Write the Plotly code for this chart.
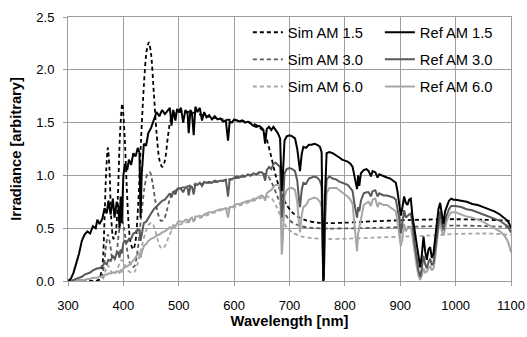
import plotly.graph_objects as go

# ---------------- data ----------------
ref_wl = [300, 305, 310, 315, 320, 325, 330, 335, 340, 345,
          350, 353, 357, 362, 366, 370, 373, 377, 381, 384,
          388, 391, 393, 395, 397, 400, 403, 407, 410, 414,
          418, 422, 426, 429, 431, 433, 437, 441, 445, 450,
          455, 460, 465, 470, 475, 480, 484, 487, 490, 494,
          497, 500, 504, 508, 512, 516, 518, 521, 524, 527,
          530, 534, 538, 542, 546, 550, 555, 560, 565, 570,
          575, 580, 585, 589, 592, 596, 600, 605, 610, 615,
          620, 625, 630, 635, 640, 645, 650, 653, 656, 659,
          663, 667, 671, 675, 679, 683, 686, 688, 691, 695,
          700, 705, 710, 714, 717, 719, 722, 725, 730, 735,
          740, 745, 750, 755, 758, 760, 761, 762, 764, 767,
          772, 778, 785, 790, 795, 800, 805, 810, 814, 817,
          819, 822, 824, 826, 829, 834, 839, 843, 847, 850,
          855, 859, 862, 866, 870, 876, 882, 888, 892, 895,
          898, 901, 904, 907, 910, 913, 916, 919, 922, 926,
          930, 933, 936, 939, 942, 945, 948, 951, 954, 957,
          960, 963, 966, 969, 972, 975, 978, 981, 984, 988,
          992, 996, 1000, 1010, 1020, 1030, 1040, 1050, 1060, 1070,
          1080, 1088, 1094, 1097, 1100]

ref_am15 = [0.00, 0.02, 0.08, 0.17, 0.26, 0.38, 0.44, 0.47, 0.45, 0.52,
            0.50, 0.58, 0.54, 0.59, 0.69, 0.64, 0.76, 0.63, 0.78, 0.60,
            0.75, 0.70, 0.50, 0.80, 0.55, 1.00, 1.11, 1.05, 1.15, 1.10,
            1.21, 1.18, 1.26, 1.22, 0.60, 1.00, 1.30, 1.28, 1.40, 1.45,
            1.52, 1.60, 1.56, 1.62, 1.58, 1.61, 1.64, 1.47, 1.62, 1.52,
            1.63, 1.60, 1.64, 1.50, 1.62, 1.58, 1.40, 1.62, 1.58, 1.38,
            1.65, 1.60, 1.64, 1.52, 1.60, 1.55, 1.57, 1.53, 1.56, 1.53,
            1.54, 1.51, 1.52, 1.33, 1.51, 1.50, 1.53, 1.52, 1.51, 1.52,
            1.50, 1.51, 1.49, 1.47, 1.46, 1.47, 1.45, 1.43, 1.30, 1.44,
            1.46, 1.43, 1.46, 1.43, 1.40, 1.35, 0.85, 1.00, 1.33, 1.37,
            1.38, 1.37, 1.35, 1.25, 1.10, 1.04, 1.20, 1.27, 1.26, 1.29,
            1.29, 1.30, 1.29, 1.27, 1.22, 0.30, 0.00, 0.05, 0.80, 1.21,
            1.22, 1.21, 1.19, 1.17, 1.15, 1.14, 1.13, 1.11, 1.08, 1.00,
            0.93, 0.87, 1.00, 0.90, 1.02, 1.05, 1.06, 1.04, 0.99, 1.04,
            1.03, 0.98, 1.01, 1.00, 0.99, 0.98, 0.97, 0.95, 0.93, 0.85,
            0.74, 0.62, 0.70, 0.80, 0.74, 0.72, 0.77, 0.78, 0.62, 0.48,
            0.32, 0.20, 0.13, 0.25, 0.42, 0.28, 0.20, 0.30, 0.32, 0.22,
            0.26, 0.40, 0.55, 0.68, 0.74, 0.64, 0.54, 0.66, 0.71, 0.76,
            0.78, 0.77, 0.77, 0.76, 0.75, 0.73, 0.72, 0.70, 0.68, 0.66,
            0.63, 0.60, 0.57, 0.54, 0.50]

ref_am30 = [0.00, 0.00, 0.01, 0.02, 0.03, 0.04, 0.06, 0.07, 0.08, 0.10,
            0.11, 0.12, 0.12, 0.14, 0.17, 0.16, 0.20, 0.19, 0.24, 0.21,
            0.26, 0.27, 0.22, 0.30, 0.26, 0.36, 0.38, 0.37, 0.40, 0.40,
            0.45, 0.46, 0.49, 0.48, 0.38, 0.45, 0.55, 0.56, 0.60, 0.64,
            0.68, 0.71, 0.73, 0.76, 0.77, 0.80, 0.83, 0.79, 0.85, 0.82,
            0.87, 0.88, 0.87, 0.84, 0.89, 0.88, 0.81, 0.90, 0.89, 0.82,
            0.92, 0.91, 0.93, 0.90, 0.94, 0.93, 0.94, 0.93, 0.95, 0.94,
            0.95, 0.95, 0.96, 0.80, 0.96, 0.96, 0.98, 0.99, 0.98, 1.00,
            0.99, 1.01, 1.00, 1.02, 1.01, 1.03, 1.03, 1.01, 0.95, 1.05,
            1.08, 1.06, 1.11, 1.12, 1.10, 1.08, 0.60, 0.70, 1.02, 1.06,
            1.07, 1.06, 1.04, 0.95, 0.78, 0.70, 0.86, 0.93, 0.92, 0.97,
            0.98, 0.99, 0.98, 0.95, 0.89, 0.20, 0.00, 0.02, 0.60, 0.96,
            0.99, 0.97, 0.96, 0.94, 0.93, 0.92, 0.91, 0.88, 0.85, 0.74,
            0.68, 0.60, 0.70, 0.66, 0.76, 0.83, 0.84, 0.84, 0.80, 0.85,
            0.86, 0.80, 0.83, 0.82, 0.81, 0.81, 0.80, 0.79, 0.77, 0.70,
            0.60, 0.45, 0.55, 0.67, 0.60, 0.62, 0.63, 0.64, 0.55, 0.35,
            0.20, 0.10, 0.04, 0.12, 0.24, 0.16, 0.12, 0.18, 0.21, 0.15,
            0.17, 0.30, 0.42, 0.58, 0.66, 0.55, 0.48, 0.58, 0.63, 0.68,
            0.71, 0.71, 0.71, 0.70, 0.68, 0.67, 0.65, 0.63, 0.61, 0.59,
            0.57, 0.54, 0.52, 0.49, 0.46]

ref_am60 = [0.00, 0.00, 0.00, 0.00, 0.01, 0.01, 0.01, 0.02, 0.02, 0.03,
            0.03, 0.03, 0.04, 0.04, 0.06, 0.06, 0.07, 0.07, 0.08, 0.08,
            0.09, 0.09, 0.08, 0.10, 0.09, 0.12, 0.13, 0.14, 0.15, 0.17,
            0.20, 0.22, 0.25, 0.26, 0.22, 0.27, 0.33, 0.35, 0.38, 0.40,
            0.41, 0.43, 0.44, 0.46, 0.47, 0.49, 0.51, 0.49, 0.53, 0.52,
            0.55, 0.57, 0.56, 0.56, 0.58, 0.58, 0.55, 0.59, 0.60, 0.56,
            0.61, 0.61, 0.62, 0.61, 0.63, 0.64, 0.65, 0.65, 0.66, 0.67,
            0.68, 0.68, 0.69, 0.60, 0.70, 0.70, 0.71, 0.73, 0.73, 0.74,
            0.75, 0.76, 0.76, 0.78, 0.78, 0.80, 0.81, 0.80, 0.76, 0.83,
            0.85, 0.86, 0.89, 0.91, 0.91, 0.90, 0.25, 0.40, 0.80, 0.86,
            0.88, 0.88, 0.86, 0.75, 0.55, 0.46, 0.62, 0.70, 0.72, 0.77,
            0.78, 0.79, 0.78, 0.75, 0.70, 0.10, 0.00, 0.00, 0.50, 0.83,
            0.88, 0.88, 0.88, 0.86, 0.84, 0.82, 0.80, 0.77, 0.73, 0.55,
            0.45, 0.28, 0.45, 0.50, 0.60, 0.72, 0.74, 0.75, 0.71, 0.77,
            0.78, 0.70, 0.74, 0.73, 0.72, 0.72, 0.70, 0.68, 0.66, 0.56,
            0.45, 0.33, 0.40, 0.54, 0.47, 0.50, 0.50, 0.52, 0.42, 0.25,
            0.13, 0.05, 0.01, 0.05, 0.12, 0.08, 0.09, 0.12, 0.14, 0.10,
            0.12, 0.22, 0.35, 0.50, 0.57, 0.47, 0.43, 0.52, 0.57, 0.62,
            0.65, 0.65, 0.65, 0.63, 0.61, 0.60, 0.58, 0.56, 0.53, 0.50,
            0.47, 0.43, 0.38, 0.33, 0.27]

sim15_wl = [300, 340, 355, 362, 366, 369, 372, 375, 378, 382,
            386, 390, 394, 398, 402, 406, 410, 414, 418, 422,
            427, 432, 437, 442, 446, 450, 455, 460, 465, 470,
            475, 480, 485, 490, 500, 520, 550, 580, 610, 630,
            645, 655, 665, 675, 685, 695, 705, 715, 730, 750,
            770, 800, 850, 900, 950, 1000, 1050, 1080, 1100]
sim_am15 = [0.00, 0.00, 0.01, 0.15, 0.60, 1.05, 1.26, 1.05, 0.60, 0.40,
            0.45, 0.80, 1.40, 1.68, 1.40, 0.90, 0.50, 0.34, 0.30, 0.38,
            0.75, 1.35, 1.85, 2.18, 2.26, 2.15, 1.78, 1.40, 1.15, 1.08,
            1.14, 1.35, 1.52, 1.58, 1.60, 1.60, 1.56, 1.53, 1.52, 1.50,
            1.46, 1.40, 1.22, 1.00, 0.83, 0.72, 0.65, 0.61, 0.575, 0.553,
            0.548, 0.552, 0.565, 0.575, 0.582, 0.585, 0.58, 0.575, 0.568]

sim30_wl = [300, 350, 360, 365, 369, 372, 376, 380, 384, 388,
            393, 397, 401, 406, 411, 416, 420, 426, 432, 438,
            444, 448, 453, 458, 463, 468, 473, 478, 483, 488,
            495, 510, 540, 570, 600, 630, 650, 660, 668, 676,
            685, 695, 705, 720, 740, 770, 800, 850, 900, 950,
            1000, 1050, 1080, 1100]
sim_am30 = [0.00, 0.00, 0.02, 0.15, 0.35, 0.44, 0.35, 0.22, 0.20, 0.28,
            0.50, 0.58, 0.50, 0.32, 0.18, 0.13, 0.14, 0.30, 0.60, 0.88,
            1.02, 1.03, 0.92, 0.75, 0.63, 0.57, 0.58, 0.66, 0.76, 0.83,
            0.86, 0.89, 0.92, 0.94, 0.97, 1.00, 1.02, 1.00, 0.93, 0.83,
            0.71, 0.61, 0.555, 0.52, 0.503, 0.497, 0.498, 0.503, 0.51, 0.518,
            0.525, 0.52, 0.515, 0.51]

sim60_wl = [300, 355, 363, 368, 372, 377, 382, 388, 393, 397,
            402, 408, 414, 419, 425, 432, 440, 447, 452, 457,
            462, 467, 472, 477, 482, 488, 495, 510, 540, 570,
            600, 630, 650, 660, 668, 676, 685, 695, 705, 720,
            740, 770, 800, 850, 900, 950, 1000, 1050, 1080, 1100]
sim_am60 = [0.00, 0.00, 0.02, 0.10, 0.15, 0.10, 0.06, 0.09, 0.17, 0.20,
            0.16, 0.10, 0.08, 0.08, 0.15, 0.30, 0.46, 0.54, 0.55, 0.49,
            0.39, 0.32, 0.31, 0.35, 0.42, 0.48, 0.52, 0.55, 0.60, 0.66,
            0.70, 0.75, 0.79, 0.80, 0.78, 0.71, 0.60, 0.51, 0.46, 0.425,
            0.405, 0.398, 0.40, 0.41, 0.42, 0.43, 0.445, 0.45, 0.445, 0.435]

x_ticks = [300, 400, 500, 600, 700, 800, 900, 1000, 1100]
y_ticks = [0.0, 0.5, 1.0, 1.5, 2.0, 2.5]

# ---------------- figure ----------------
BLACK = "#000000"
DARK = "#595959"
LIGHT = "#a6a6a6"
FONT = "Liberation Sans"

fig = go.Figure()

sims = [("Sim AM 1.5", sim15_wl, sim_am15, BLACK, 1),
        ("Sim AM 3.0", sim30_wl, sim_am30, DARK, 2),
        ("Sim AM 6.0", sim60_wl, sim_am60, LIGHT, 3)]
refs = [("Ref AM 1.5", ref_am15, BLACK, 1),
        ("Ref AM 3.0", ref_am30, DARK, 2),
        ("Ref AM 6.0", ref_am60, LIGHT, 3)]

# light-first so darker curves sit on top
for name, wl, vals, col, rank in reversed(sims):
    fig.add_trace(go.Scatter(
        x=wl, y=vals, name=name, mode="lines",
        line=dict(color=col, width=1.8, dash="4px,3px", shape="spline", smoothing=0.8),
        legend="legend", legendgroup=name, legendrank=rank))
for name, vals, col, rank in reversed(refs):
    fig.add_trace(go.Scatter(
        x=ref_wl, y=vals, name=name, mode="lines",
        line=dict(color=col, width=2),
        legend="legend2", legendgroup=name, legendrank=rank))

GRID = "#9e9e9e"

fig.add_shape(type="rect", xref="paper", yref="paper",
              x0=0.381, x1=1.0, y0=0.678, y1=1.0,
              fillcolor="white", line=dict(width=0), layer="between")

legend_common = dict(
    bgcolor="rgba(0,0,0,0)", borderwidth=0,
    font=dict(family=FONT, size=14.7, color="#000000"),
    orientation="v", yanchor="top", y=1.003, xanchor="left",
    tracegroupgap=5, traceorder="grouped",
)

fig.update_layout(
    width=527, height=337,
    margin=dict(l=68, r=16, t=17, b=56, autoexpand=False),
    paper_bgcolor="white", plot_bgcolor="white",
    font=dict(family=FONT, size=13, color="#000000"),
    showlegend=True,
    legend=dict(x=0.406, **legend_common),
    legend2=dict(x=0.704, **legend_common),
    xaxis=dict(
        range=[300, 1100], tickvals=x_ticks, ticktext=[str(v) for v in x_ticks],
        showgrid=True, gridcolor=GRID, gridwidth=1,
        showline=True, linecolor=GRID, linewidth=1, mirror=True,
        ticks="outside", ticklen=4, tickcolor=GRID,
        tickfont=dict(family=FONT, size=13, color="#000000"),
        ticklabelstandoff=8,
        zeroline=False,
        title=dict(text="Wavelength [nm]", font=dict(family=FONT, size=14.7, color="#000000", weight="bold"), standoff=3),
    ),
    yaxis=dict(
        range=[0, 2.5], tickvals=y_ticks, ticktext=["%.1f" % v for v in y_ticks],
        showgrid=True, gridcolor=GRID, gridwidth=1,
        showline=True, linecolor=GRID, linewidth=1, mirror=True,
        ticks="outside", ticklen=4, tickcolor=GRID,
        tickfont=dict(family=FONT, size=13, color="#000000"),
        ticklabelstandoff=6,
        zeroline=False,
        title=dict(text="Irradiance [arbitrary]", font=dict(family=FONT, size=14.7, color="#000000", weight="bold"), standoff=11),
    ),
)

fig.write_html("out.html", config={"displayModeBar": False},
               post_script="document.body.style.margin='0';document.body.style.padding='0';")
